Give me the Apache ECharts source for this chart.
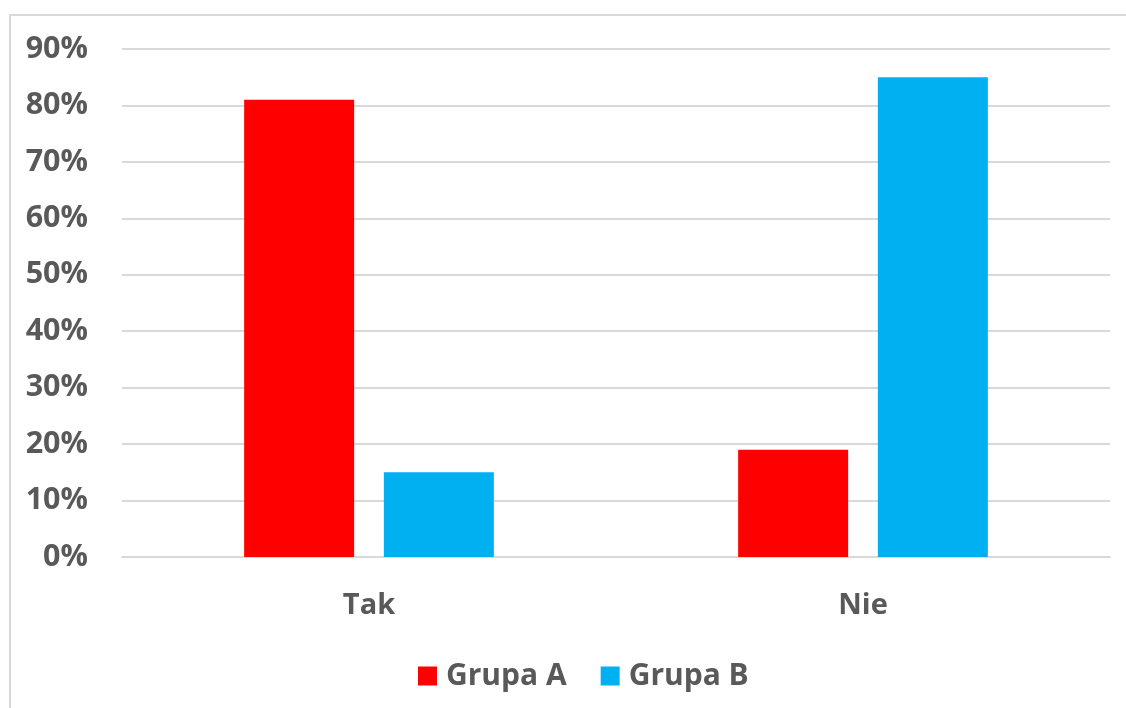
<!DOCTYPE html>
<html>
<head>
<meta charset="utf-8">
<style>
  html, body { margin: 0; padding: 0; background: #ffffff; }
  #chart { width: 1126px; height: 708px; }
</style>
<script src="https://cdn.jsdelivr.net/npm/echarts@6/dist/echarts.min.js"></script>
</head>
<body>
<div id="chart"></div>
<script>
// Answer categories and share of respondents per group (in %)
const categories = ['Tak', 'Nie'];
const grupaA = [81, 19];
const grupaB = [15, 85];
const seriesNames = ['Grupa A', 'Grupa B'];

const textColor = '#595959';
const gridColor = '#d9d9d9';
const fontFamily = '"Open Sans", "DejaVu Sans", sans-serif';

const chart = echarts.init(document.getElementById('chart'), null, { renderer: 'canvas' });

chart.setOption({
  backgroundColor: '#ffffff',
  animation: false,
  graphic: [{
    type: 'rect',
    shape: { x: 10, y: 15, width: 1300, height: 900 },
    style: { fill: 'none', stroke: gridColor, lineWidth: 2 },
    silent: true,
    z: -10
  }],
  grid: { left: 122, right: 16, top: 49, bottom: 151, containLabel: false },
  legend: {
    data: seriesNames,
    left: 413,
    top: 656,
    itemWidth: 19,
    itemHeight: 19,
    itemGap: 34,
    icon: 'rect',
    textStyle: { color: textColor, fontSize: 30, fontWeight: 'bold', fontFamily: fontFamily, padding: [0, 0, 0, 4] }
  },
  xAxis: {
    type: 'category',
    data: categories,
    axisLine: { show: true, lineStyle: { color: gridColor, width: 2 } },
    axisTick: { show: false },
    axisLabel: { color: textColor, fontSize: 29, fontWeight: 'bold', fontFamily: fontFamily, margin: 34 }
  },
  yAxis: {
    type: 'value',
    min: 0,
    max: 90,
    interval: 10,
    axisLine: { show: false },
    axisTick: { show: false },
    splitLine: { lineStyle: { color: gridColor, width: 2 } },
    axisLabel: {
      color: textColor, fontSize: 30.5, fontWeight: 'bold', fontFamily: fontFamily, margin: 34,
      formatter: v => v + '%'
    }
  },
  series: [
    { name: seriesNames[0], type: 'bar', data: grupaA, barWidth: 110, barGap: '27%', itemStyle: { color: '#ff0000' } },
    { name: seriesNames[1], type: 'bar', data: grupaB, barWidth: 110, barGap: '27%', itemStyle: { color: '#00b0f0' } }
  ]
});
</script>
</body>
</html>
